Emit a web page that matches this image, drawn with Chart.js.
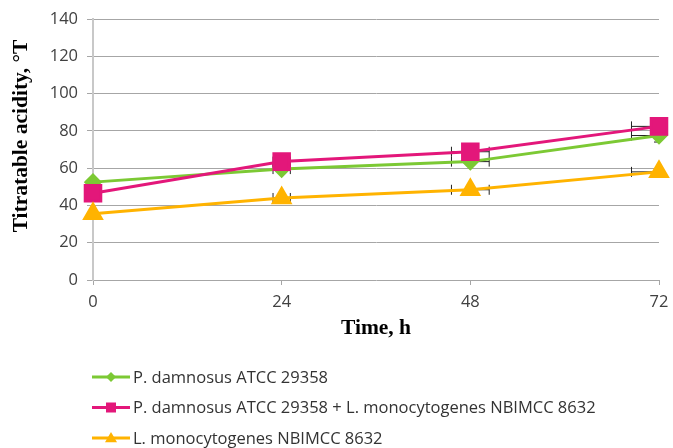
<!DOCTYPE html>
<html>
<head>
<meta charset="utf-8">
<script src="https://cdn.jsdelivr.net/npm/chart.js@4/dist/chart.umd.min.js"></script>
<style>
  html, body { margin: 0; padding: 0; background: #ffffff; }
  #wrap { width: 673px; height: 448px; position: relative; }
</style>
</head>
<body>
<div id="wrap"><canvas id="chart" width="673" height="448"></canvas></div>
<script>
// Sampling times, hours
const hours = [0, 24, 48, 72];

// Titratable acidity, °T
const pdamnosus = [52.5, 59.5, 63.5, 77.5];
const pdamnosusMixed = [46.5, 63.5, 68.8, 82.4];
const listeria = [35.5, 44, 48.4, 58];

// Error bars: spread of sampling time (h) and of acidity (°T)
const hourErr = [0, 1.1, 2.4, 3.5];
const pdamnosusErr = [0, 1.5, 1.5, 3.5];
const pdamnosusMixedErr = [0, 1.5, 1.5, 4.5];
const listeriaErr = [0, 1, 1, 1.5];

const seriesNames = [
  'P. damnosus ATCC 29358',
  'P. damnosus ATCC 29358 + L. monocytogenes NBIMCC 8632',
  'L. monocytogenes NBIMCC 8632'
];
const xTitle = 'Time, h';
const yTitle = 'Titratable acidity, °T';

const GREEN = '#7cc934';
const PINK = '#e3177a';
const ORANGE = '#ffb300';

const toPoints = (vals) => hours.map((h, i) => ({ x: h, y: vals[i] }));

// Thin black error bars in both directions, drawn beneath the series
const errorBars = {
  id: 'errorBars',
  beforeDatasetsDraw(chart) {
    const { ctx, chartArea: area, scales: { x, y } } = chart;
    ctx.save();
    ctx.beginPath();
    ctx.rect(area.left, area.top, area.right - area.left, area.bottom - area.top);
    ctx.clip();
    ctx.strokeStyle = '#222';
    ctx.lineWidth = 1;
    chart.data.datasets.forEach((ds) => {
      ds.data.forEach((p, i) => {
        const px = x.getPixelForValue(p.x);
        const py = y.getPixelForValue(p.y);
        const dx = hourErr[i];
        if (dx > 0) {
          const l = x.getPixelForValue(p.x - dx);
          const r = x.getPixelForValue(p.x + dx);
          ctx.beginPath();
          ctx.moveTo(l, py); ctx.lineTo(r, py);
          ctx.moveTo(l, py - 5); ctx.lineTo(l, py + 5);
          ctx.moveTo(r, py - 5); ctx.lineTo(r, py + 5);
          ctx.stroke();
        }
        const dy = ds.yErr[i];
        if (dy > 0) {
          const t = y.getPixelForValue(p.y + dy);
          const b = y.getPixelForValue(p.y - dy);
          ctx.beginPath();
          ctx.moveTo(px, t); ctx.lineTo(px, b);
          ctx.moveTo(px - 5, t); ctx.lineTo(px + 5, t);
          ctx.moveTo(px - 5, b); ctx.lineTo(px + 5, b);
          ctx.stroke();
        }
      });
    });
    ctx.restore();
  }
};

// Rotated value-axis title, placed slightly above the plot's middle
const sideTitle = {
  id: 'sideTitle',
  afterDraw(chart, args, opts) {
    const ctx = chart.ctx;
    ctx.save();
    ctx.translate(opts.x, opts.y);
    ctx.rotate(-Math.PI / 2);
    ctx.font = opts.font;
    ctx.fillStyle = opts.color;
    ctx.textAlign = 'center';
    ctx.textBaseline = 'middle';
    ctx.fillText(opts.text, 0, 0);
    ctx.restore();
  }
};

// Legend stacked below the plot: line sample with marker, then name
const stackedLegend = {
  id: 'stackedLegend',
  afterDraw(chart, args, opts) {
    const ctx = chart.ctx;
    chart.data.datasets.forEach((ds, i) => {
      const y = opts.top + i * opts.rowGap;
      const x0 = opts.left;
      const x1 = opts.left + opts.lineLength;
      const cx = (x0 + x1) / 2;
      ctx.save();
      ctx.strokeStyle = ds.borderColor;
      ctx.fillStyle = ds.backgroundColor;
      ctx.lineWidth = 3;
      ctx.beginPath();
      ctx.moveTo(x0, y); ctx.lineTo(x1, y);
      ctx.stroke();
      ctx.beginPath();
      if (ds.pointStyle === 'rectRot') {
        const r = 5;
        ctx.moveTo(cx, y - r); ctx.lineTo(cx + r, y); ctx.lineTo(cx, y + r); ctx.lineTo(cx - r, y);
      } else if (ds.pointStyle === 'rect') {
        const s = 5;
        ctx.rect(cx - s, y - s, 2 * s, 2 * s);
      } else {
        const r = 6;
        ctx.moveTo(cx, y - r); ctx.lineTo(cx + r, y + r * 0.7); ctx.lineTo(cx - r, y + r * 0.7);
      }
      ctx.closePath();
      ctx.fill();
      ctx.font = opts.font;
      ctx.fillStyle = opts.color;
      ctx.textBaseline = 'middle';
      ctx.textAlign = 'left';
      ctx.fillText(seriesNames[i], x1 + 3, y + 1);
      ctx.restore();
    });
  }
};

const tickFont = { family: 'Open Sans', size: 16.5 };
const titleFont = { family: 'Liberation Serif', size: 21.5, weight: 'bold' };

new Chart(document.getElementById('chart'), {
  type: 'line',
  data: {
    datasets: [
      {
        label: seriesNames[0],
        data: toPoints(pdamnosus),
        yErr: pdamnosusErr,
        borderColor: GREEN,
        backgroundColor: GREEN,
        borderWidth: 3,
        pointStyle: 'rectRot',
        pointRadius: 7,
        pointHoverRadius: 7,
        clip: false,
        order: 2
      },
      {
        label: seriesNames[1],
        data: toPoints(pdamnosusMixed),
        yErr: pdamnosusMixedErr,
        borderColor: PINK,
        backgroundColor: PINK,
        borderWidth: 3,
        pointStyle: 'rect',
        pointRadius: 11,
        pointHoverRadius: 11,
        clip: false,
        order: 1
      },
      {
        label: seriesNames[2],
        data: toPoints(listeria),
        yErr: listeriaErr,
        borderColor: ORANGE,
        backgroundColor: ORANGE,
        borderWidth: 3,
        pointStyle: 'triangle',
        pointRadius: 9.5,
        pointHoverRadius: 9.5,
        clip: false,
        order: 0
      }
    ]
  },
  options: {
    responsive: false,
    animation: false,
    events: [],
    layout: { padding: { top: 19, right: 13, bottom: 100, left: 0 } },
    plugins: {
      legend: { display: false },
      tooltip: { enabled: false },
      sideTitle: {
        text: yTitle,
        x: 21,
        y: 136,
        font: 'bold 21.5px "Liberation Serif"',
        color: '#000000'
      },
      stackedLegend: {
        left: 92,
        top: 377,
        rowGap: 30.5,
        lineLength: 38,
        font: '16.5px "Open Sans"',
        color: '#333333'
      }
    },
    scales: {
      x: {
        type: 'linear',
        min: 0,
        max: 72,
        afterFit(scale) {
          scale.height = 68;
          scale.paddingLeft = 0;
          scale.paddingRight = 0;
        },
        ticks: { stepSize: 24, font: tickFont, color: '#404040', padding: 7 },
        grid: { drawOnChartArea: false, drawTicks: true, tickLength: 5, color: '#a6a6a6' },
        border: { display: false },
        title: { display: true, text: xTitle, font: titleFont, color: '#000', padding: { top: 0, bottom: 7 } }
      },
      y: {
        min: 0,
        max: 140,
        afterFit(scale) { scale.width = 93; },
        ticks: { stepSize: 20, font: tickFont, color: '#404040', padding: 9 },
        grid: { color: '#a6a6a6', tickLength: 6 },
        border: { color: '#c8c8c8', width: 2 },
        title: { display: false }
      }
    }
  },
  plugins: [errorBars, sideTitle, stackedLegend]
});
</script>
</body>
</html>
